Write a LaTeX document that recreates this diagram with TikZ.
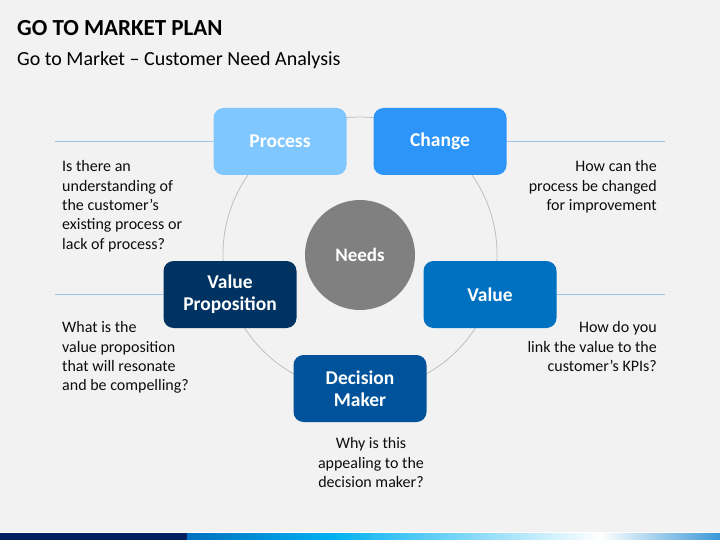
\documentclass[tikz,border=0pt]{standalone}
\usepackage{fontspec}
\setmainfont{Carlito}
\definecolor{bg}{HTML}{F2F2F2}
\definecolor{processblue}{HTML}{80C7FF}
\definecolor{changeblue}{HTML}{2D94F8}
\definecolor{valueblue}{HTML}{0070C0}
\definecolor{deciderblue}{HTML}{00539B}
\definecolor{propnavy}{HTML}{003361}
\definecolor{needgray}{HTML}{808080}
\definecolor{ringgray}{HTML}{BFBFBF}
\definecolor{guideblue}{HTML}{9DC3E6}
\definecolor{stripnavy}{HTML}{002060}
\definecolor{stripcyan}{HTML}{00B0F0}
\definecolor{stripend}{HTML}{3A98D8}
\usetikzlibrary{positioning}
\begin{document}
\begin{tikzpicture}[x=1pt, y=-1pt,
    stage/.style={rounded corners=10pt, minimum width=133pt, minimum height=67pt,
                  text=white, font=\fontsize{19.5}{22}\selectfont\bfseries, align=center},
    hub/.style={circle, fill=needgray, minimum size=110pt, text=white,
                font=\fontsize{19}{22}\selectfont\bfseries},
    note/.style={inner sep=0pt, text=black!95, font=\fontsize{16}{19.3}\selectfont},
    guide/.style={draw=guideblue, line width=1pt},
    ring/.style={draw=ringgray, line width=0.8pt},
  ]
  \useasboundingbox[fill=bg] (0,0) rectangle (720,540);

  \node[anchor=base west, inner sep=0pt, font=\fontsize{23}{28}\selectfont\bfseries] (title) at (17,36) {GO TO MARKET PLAN};
  \node[anchor=base west, inner sep=0pt, font=\fontsize{20}{24}\selectfont] (subtitle) at (17,66) {Go to Market -- Customer Need Analysis};

  \node[hub] (needs) at (360,255) {Needs};
  \draw[ring] (360,254) circle[radius=137];

  \node[stage, fill=processblue] (process) at (280,141.5) {Process};
  \node[stage, fill=changeblue] (change) at (440,141.5) {Change};
  \node[stage, fill=valueblue] (value) at (490,294.5) {Value};
  \node[stage, fill=deciderblue] (decider) at (360,388.5) {Decision\\Maker};
  \node[stage, fill=propnavy] (valprop) at (230,294.5) {Value\\Proposition};

  \coordinate (guidetl) at (55,141.5);
  \coordinate (guidetr) at (665,141.5);
  \coordinate (guidebl) at (55,294.5);
  \coordinate (guidebr) at (665,294.5);
  \draw[guide] (guidetl) -- (process.west);
  \draw[guide] (change.east) -- (guidetr);
  \draw[guide] (guidebl) -- (valprop.west);
  \draw[guide] (value.east) -- (guidebr);

  \node[note, anchor=north west, align=left] (processnote) at (62,160.5) {Is there an\\understanding of\\the customer’s\\existing process or\\lack of process?};
  \node[note, anchor=north east, align=right] (changenote) at (657,160.5) {How can the\\process be changed\\for improvement};
  \node[note, anchor=north west, align=left] (valpropnote) at (62,321.5) {What is the\\value proposition\\that will resonate\\and be compelling?};
  \node[note, anchor=north east, align=right] (valuenote) at (657,321.5) {How do you\\link the value to the\\customer’s KPIs?};
  \node[note, anchor=north, align=center] (decidernote) at (371,437.5) {Why is this\\appealing to the\\decision maker?};

  \draw[white, line width=0.8pt] (0,532.5) -- (720,532.5);
  \fill[stripnavy] (0,533) rectangle (187,540);
  \shade[left color=valueblue, right color=stripcyan] (187,533) rectangle (330,540);
  \shade[left color=stripcyan, right color=white] (330,533) rectangle (600,540);
  \shade[left color=white, right color=stripend] (600,533) rectangle (720,540);
\end{tikzpicture}
\end{document}
